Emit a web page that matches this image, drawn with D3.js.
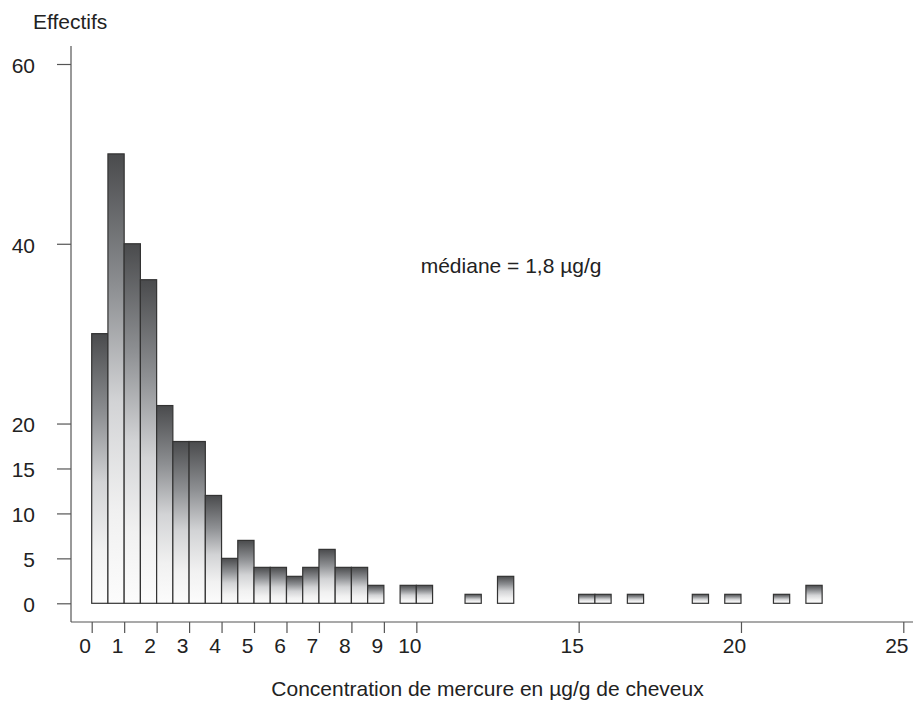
<!DOCTYPE html>
<html>
<head>
<meta charset="utf-8">
<script src="https://cdn.jsdelivr.net/npm/d3@7"></script>
<style>
  body { margin: 0; background: #fff; }
  svg text { font-family: "Liberation Sans", Arial, Helvetica, sans-serif; fill: #222; }
</style>
</head>
<body>
<script>
// bins are 0.5 µg/g wide, left edge given
const binStarts = [0, 0.5, 1, 1.5, 2, 2.5, 3, 3.5, 4, 4.5, 5, 5.5, 6, 6.5, 7, 7.5, 8, 8.5, 9.5, 10, 11.5, 12.5, 15, 15.5, 16.5, 18.5, 19.5, 21, 22]
const counts = [30, 50, 40, 36, 22, 18, 18, 12, 5, 7, 4, 4, 3, 4, 6, 4, 4, 2, 2, 2, 1, 3, 1, 1, 1, 1, 1, 1, 2]
const binWidth = 0.5
const yTicks = [0, 5, 10, 15, 20, 40, 60]
const xTicks = [0, 1, 2, 3, 4, 5, 6, 7, 8, 9, 10, 15, 20, 25]

const W = 913, H = 707
const fs = 21

const svg = d3.select('body').append('svg')
  .attr('width', W).attr('height', H)

const x = d3.scaleLinear().domain([0, 25]).range([91.7, 903.3])
const y = d3.scaleLinear().domain([0, 60]).range([603.3, 64])

// gradient, relative to each bar
const grad = svg.append('defs').append('linearGradient')
  .attr('id', 'barGrad')
  .attr('x1', 0).attr('y1', 0).attr('x2', 0).attr('y2', 1)
grad.selectAll('stop')
  .data([[0, '#4a4b4d'], [0.3, '#8e9093'], [0.55, '#d2d3d5'], [0.8, '#f1f1f1'], [1, '#fcfcfc']])
  .enter().append('stop')
  .attr('offset', d => d[0]).attr('stop-color', d => d[1])

const bars = binStarts.map((s, i) => ({start: s, count: counts[i]}))

svg.selectAll('rect.bar').data(bars).enter().append('rect')
  .attr('class', 'bar')
  .attr('x', d => x(d.start))
  .attr('y', d => y(d.count))
  .attr('width', d => x(d.start + binWidth) - x(d.start))
  .attr('height', d => y(0) - y(d.count))
  .attr('fill', 'url(#barGrad)')
  .attr('stroke', '#333')
  .attr('stroke-width', 1.2)

const yAxis = d3.axisLeft(y).tickValues(yTicks).tickSize(14).tickPadding(22)
const gy = svg.append('g').attr('transform', 'translate(71,0)').call(yAxis)
gy.select('.domain').remove()
gy.append('line').attr('x1', 0).attr('x2', 0).attr('y1', 46).attr('y2', 622)
  .attr('stroke', '#555').attr('stroke-width', 1.2)
gy.selectAll('.tick line').attr('stroke', '#555').attr('stroke-width', 1.2)
gy.selectAll('.tick text').attr('font-size', fs).attr('dy', '0.4em').attr('fill', '#222')

const xAxis = d3.axisBottom(x).tickValues(xTicks).tickSize(11).tickPadding(5)
const gx = svg.append('g').attr('transform', 'translate(0,622)').call(xAxis)
gx.select('.domain').remove()
gx.append('line').attr('x1', 71).attr('x2', W).attr('y1', 0).attr('y2', 0)
  .attr('stroke', '#555').attr('stroke-width', 1.2)
gx.selectAll('.tick line').attr('stroke', '#555').attr('stroke-width', 1.2)
gx.selectAll('.tick text').attr('font-size', fs).attr('dx', -7).attr('fill', '#222')

svg.append('text').attr('x', 33).attr('y', 28.5).attr('font-size', fs).text('Effectifs')

svg.append('text').attr('x', 420.7).attr('y', 273).attr('font-size', fs).text('médiane = 1,8 µg/g')

svg.append('text').attr('x', 487.5).attr('y', 696).attr('text-anchor', 'middle')
  .attr('font-size', fs).text('Concentration de mercure en µg/g de cheveux')
</script>
</body>
</html>
